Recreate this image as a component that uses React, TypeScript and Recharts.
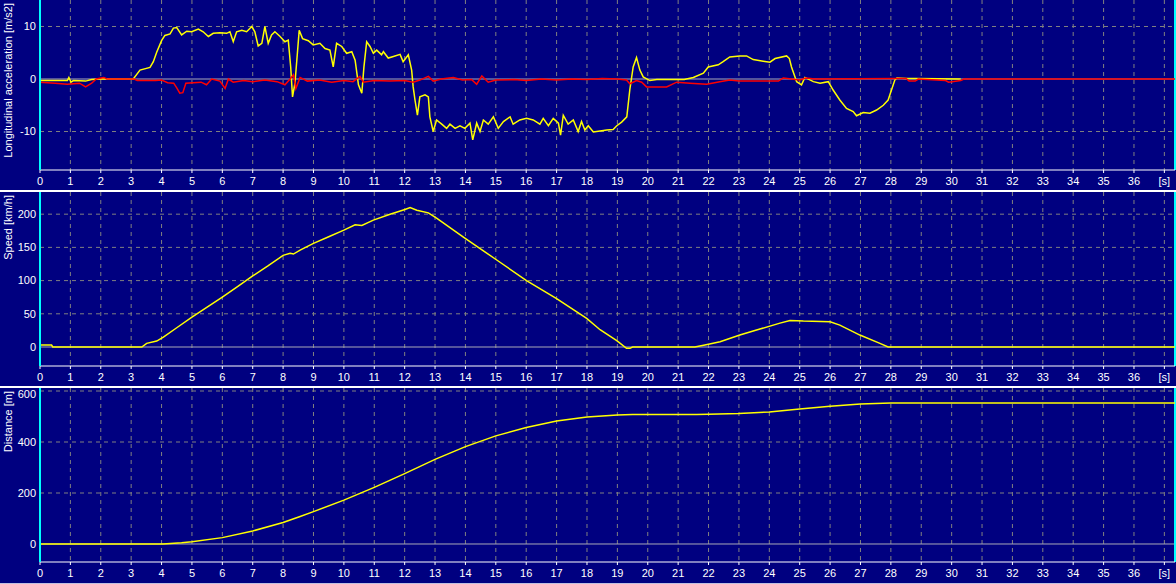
import React from "react";
import {
  CartesianGrid,
  Line,
  LineChart,
  ReferenceLine,
  XAxis,
  YAxis,
} from "recharts";

// time axis
const X_MAX = 37.35;
const X_TICKS = Array.from({ length: 38 }, (_, i) => i);

// longitudinal acceleration (yellow)
const ACC_T = [
  0, 0.9, 0.95, 1.02, 1.1, 1.5, 1.7, 2.0, 3.07, 3.29, 3.62, 3.73, 3.84, 4.0, 4.11, 4.28, 4.39, 4.5,
  4.66, 4.83, 4.99, 5.21, 5.37, 5.54, 5.7, 5.92, 6.14, 6.25, 6.36, 6.47, 6.64, 6.8, 6.97, 7.07,
  7.18, 7.3, 7.4, 7.51, 7.62, 7.73, 7.9, 8.06, 8.17, 8.25, 8.31, 8.39, 8.47, 8.53, 8.64, 8.83,
  8.99, 9.21, 9.38, 9.54, 9.65, 9.76, 9.93, 10.09, 10.26, 10.37, 10.48, 10.59, 10.66, 10.75,
  10.86, 10.97, 11.08, 11.24, 11.3, 11.46, 11.63, 11.85, 11.95, 12.12, 12.23, 12.28, 12.34,
  12.42, 12.5, 12.67, 12.78, 12.83, 12.94, 13.05, 13.22, 13.38, 13.49, 13.66, 13.82, 13.98,
  14.15, 14.24, 14.37, 14.48, 14.59, 14.75, 14.92, 15.08, 15.25, 15.47, 15.57, 15.79, 16.01,
  16.23, 16.45, 16.56, 16.73, 16.89, 17.06, 17.13, 17.22, 17.38, 17.55, 17.71, 17.82, 17.93,
  18.04, 18.21, 18.43, 18.65, 18.86, 18.98, 19.14, 19.31, 19.41, 19.52, 19.63, 19.74, 19.85,
  20.07, 20.3, 21.2, 21.5, 21.83, 21.99, 22.32, 22.48, 22.7, 23.03, 23.25, 23.47, 23.8, 24.02,
  24.19, 24.57, 24.66, 24.73, 24.9, 25.06, 25.17, 25.45, 25.67, 25.94, 26.1, 26.32, 26.54,
  26.76, 26.87, 27.09, 27.31, 27.53, 27.75, 27.91, 28.02, 28.13, 28.2, 28.5, 28.8, 30.3,
];
const ACC_V = [
  -0.3, -0.3, 0.3, -0.6, -0.3, -0.4, -0.1, 0, 0, 1.7, 2.2, 3.3, 5.1, 7.3, 8.3, 8.6, 9.7, 9.8,
  8.4, 9.1, 9.0, 9.5, 9.0, 8.1, 8.7, 8.8, 8.7, 9.0, 7.1, 9.0, 9.3, 9.0, 10.0, 9.0,
  6.3, 6.8, 10.0, 6.8, 8.4, 9.0, 8.1, 7.1, 7.4, 2.3, -3.4, -0.8, 4.9, 9.3, 7.7, 7.3,
  6.5, 6.8, 5.8, 5.5, 2.3, 6.8, 6.2, 4.9, 5.2, 3.6, -1.1, -2.7, 2.3, 7.1,
  6.2, 4.9, 5.5, 4.6, 5.2, 4.0, 4.3, 4.7, 3.3, 4.6, 1.7, -1.5, -4.0,
  -6.9, -3.4, -3.0, -3.4, -7.2, -10.0, -7.8, -8.6, -9.4, -8.6, -9.4, -8.9, -9.4,
  -8.4, -11.6, -8.4, -10.0, -7.8, -8.6, -7.2, -9.4, -8.1, -7.2, -8.6, -7.8, -7.5,
  -7.8, -8.6, -7.5, -8.9, -7.5, -8.4, -10.7, -6.9, -8.6, -7.8, -10.0, -8.1, -9.7,
  -8.9, -10.1, -9.9, -9.7, -9.6, -8.9, -8.2, -7.2, -2.0, 2.3, 4.1, 1.7, 0.4,
  -0.3, -0.1, -0.1, 0.3, 1.1, 2.3, 2.7, 3.3, 4.2, 4.4, 4.4, 3.7, 3.4, 3.2,
  3.9, 4.4, 3.9, 2.3, -0.5, -1.1, 0.3, -0.5, -0.8, -0.5, -2.1, -4.0, -5.6,
  -6.2, -7.0, -6.4, -6.5, -5.9, -5.0, -4.0, -2.1, -0.2, 0.2, 0.1, 0.1, 0,
];

// second trace (red)
const LAT_T = [
  0, 0.5, 0.9, 1.3, 1.5, 1.7, 1.85, 2.1, 2.2, 3.1, 3.2, 3.8, 4.0, 4.2, 4.4, 4.5, 4.6, 4.7, 4.8,
  5.3, 5.48, 5.65, 5.92, 6.09, 6.2, 6.36, 6.7, 7.0, 7.4, 7.8, 8.06, 8.23, 8.34, 8.42, 8.56, 8.8,
  9.2, 9.6, 10.0, 10.3, 10.53, 10.64, 11.0, 11.5, 12.0, 12.28, 12.5, 12.78, 12.94, 13.2, 13.6,
  13.9, 14.2, 14.37, 14.54, 14.75, 15.0, 15.6, 16.0, 16.5, 17.0, 17.5, 18.0, 18.5, 19.0, 19.3,
  19.41, 19.63, 19.8, 19.96, 20.62, 20.95, 21.39, 21.94, 22.37, 22.7, 23.0, 24.3, 24.46, 25.0,
  25.2, 25.5, 28.2, 28.5, 28.6, 28.8, 28.9, 29.8, 29.9, 30.3, 30.4, 37.35,
];
const LAT_V = [
  -0.6, -0.8, -1.0, -0.8, -1.5, -0.8, 0, 0.3, 0, 0, -0.3, -0.3, -0.2, -0.7, -0.8, -1.7, -2.7, -2.6, -0.8,
  -0.6, -1.1, 0, -0.4, -1.8, 0, -0.6, -0.3, -0.5, -0.2, -0.5, -1.1, 0, 0.8, -1.8, 0.3, -0.4,
  -0.2, -0.6, -0.3, -0.5, 0.5, -0.6, -0.3, -0.4, -0.3, -0.6, -0.2, 0.5, -0.4, 0, 0.3,
  -0.2, -0.1, -1.0, 0.6, -0.6, -0.2, -0.1, -0.3, 0, -0.2, 0, -0.1, 0.1, 0, -0.2,
  -0.9, -0.3, -0.6, -1.5, -1.5, -0.6, -0.8, -1.0, -0.5, -0.2, -0.4, -0.4, 0.2, -0.2,
  0.2, 0, 0.1, 0.1, -0.4, -0.4, 0, -0.3, -0.6, -0.3, 0, 0,
];

// speed [km/h]
const SPD_T = [
  0, 0.38, 0.42, 3.35, 3.51, 3.84, 4.06, 4.5, 5.0, 5.5, 6.0, 6.5, 7.0, 7.5, 8.0, 8.23, 8.34,
  8.56, 9.0, 9.5, 10.0, 10.37, 10.59, 10.97, 11.52, 12.01, 12.18, 12.4, 12.78, 13.05, 13.98,
  15.03, 16.01, 17.0, 17.99, 18.43, 18.98, 19.3, 19.41, 19.5, 21.55, 21.88, 22.38, 23.03,
  23.69, 24.35, 24.68, 25.12, 26.0, 26.32, 26.98, 27.64, 27.91, 37.35,
];
const SPD_V = [
  3, 3, 0, 0, 5.5, 9, 15, 29, 45, 60, 75, 91, 107, 122, 138, 141, 140,
  146, 156, 166, 176, 184, 183, 191, 200, 207, 210, 206, 202, 194, 164,
  131, 100, 73, 43, 26, 9.5, -2, -2, 0, 0, 3, 8, 18,
  27, 36, 40, 39, 38, 33, 18, 5.5, 0, 0,
];

// distance [m]
const DST_T = [
  0, 4.05, 4.66, 5, 6, 7, 8, 8.56, 9, 10, 11, 12, 13, 14, 15, 16, 17, 18, 19, 19.5, 21.6, 22,
  23, 24, 25, 26, 27, 28, 37.35,
];
const DST_V = [
  0, 0, 5, 9, 25, 51, 84, 108, 127, 172, 222, 276, 332, 382, 424, 457, 482, 498, 506, 508, 508, 509,
  512, 518, 529, 540, 549, 553, 553,
];

const FONT = '"Liberation Sans", Arial, sans-serif';
const NAVY = "#000080";
const GRID = "#808080";
const ZERO = "#a8a8b8";
const CYAN = "#00ffff";
const YELLOW = "#ffff00";
const RED = "#ff0000";

const toRows = (ts: number[], vs: number[]) => ts.map((t, i) => ({ t, v: vs[i] }));

type Series = { data: { t: number; v: number }[]; color: string };

// y tick that never runs above the top edge of its panel
function YTick(props: any) {
  const { x, y, payload } = props;
  const cy = Math.max(y, 6);
  return (
    <text
      x={x}
      y={cy}
      dy="0.355em"
      textAnchor="end"
      fill="#ffffff"
      fontSize={11}
      fontFamily={FONT}
    >
      {payload.value}
    </text>
  );
}

function Panel({
  top,
  height,
  yDomain,
  yTicks,
  yLabel,
  series,
}: {
  top: number;
  height: number;
  yDomain: [number, number];
  yTicks: number[];
  yLabel: string;
  series: Series[];
}) {
  const renderLabel = (props: any) => {
    const vb = props && props.viewBox ? props.viewBox : { y: 0 };
    const x = 12;
    const y = vb.y + 3;
    return (
      <text
        x={x}
        y={y}
        transform={`rotate(-90 ${x} ${y})`}
        textAnchor="end"
        fill="#ffffff"
        fontSize={11}
        fontFamily={FONT}
      >
        {yLabel}
      </text>
    );
  };

  return (
    <div style={{ position: "absolute", left: 0, top, width: 1176, height }}>
      <LineChart
        width={1176}
        height={height}
        margin={{ top: 0, right: 1, left: 0, bottom: 0 }}
      >
        <CartesianGrid
          stroke={GRID}
          strokeDasharray="4 4"
          horizontalValues={yTicks.filter((v) => v !== 0)}
        />
        <XAxis
          dataKey="t"
          type="number"
          domain={[0, X_MAX]}
          ticks={X_TICKS}
          interval={0}
          allowDataOverflow
          height={21}
          stroke="#ffffff"
          tickSize={3}
          tickMargin={4}
          tick={{ fill: "#ffffff", fontSize: 11, fontFamily: FONT }}
          tickFormatter={(v) => (v === 37 ? "[s]" : String(v))}
        />
        <YAxis
          type="number"
          domain={yDomain}
          ticks={yTicks}
          interval={0}
          allowDataOverflow
          width={40}
          tickLine={false}
          tickSize={2}
          tickMargin={2}
          axisLine={{ stroke: CYAN, strokeWidth: 2 }}
          tick={<YTick />}
          label={renderLabel}
        />
        <ReferenceLine y={0} stroke={ZERO} strokeWidth={1} />
        <ReferenceLine x={X_MAX} stroke={CYAN} strokeWidth={2} />
        {series.map((s, i) => (
          <Line
            key={i}
            data={s.data}
            dataKey="v"
            type="linear"
            stroke={s.color}
            strokeWidth={1.5}
            dot={false}
            activeDot={false}
            isAnimationActive={false}
          />
        ))}
      </LineChart>
    </div>
  );
}

export default function App() {
  const acc = toRows(ACC_T, ACC_V);
  const lat = toRows(LAT_T, LAT_V);
  const spd = toRows(SPD_T, SPD_V);
  const dst = toRows(DST_T, DST_V);

  return (
    <div
      style={{
        position: "absolute",
        left: 0,
        top: 0,
        width: 1176,
        height: 584,
        background: NAVY,
        overflow: "hidden",
        fontFamily: FONT,
      }}
    >
      <Panel
        top={0}
        height={191}
        yDomain={[-17.33, 15.05]}
        yTicks={[-10, 0, 10]}
        yLabel="Longitudinal acceleration [m/s2]"
        series={[
          { data: acc, color: YELLOW },
          { data: lat, color: RED },
        ]}
      />
      <div style={{ position: "absolute", left: 0, top: 190, width: 1176, height: 2, background: "#ffffff" }} />
      <Panel
        top={192}
        height={195}
        yDomain={[-28.6, 233.4]}
        yTicks={[0, 50, 100, 150, 200]}
        yLabel="Speed [km/h]"
        series={[{ data: spd, color: YELLOW }]}
      />
      <div style={{ position: "absolute", left: 0, top: 386, width: 1176, height: 2, background: "#ffffff" }} />
      <Panel
        top={388}
        height={195}
        yDomain={[-70.6, 611.8]}
        yTicks={[0, 200, 400, 600]}
        yLabel="Distance [m]"
        series={[{ data: dst, color: YELLOW }]}
      />
      <div style={{ position: "absolute", left: 0, top: 583, width: 1176, height: 1, background: "#c0c0e0" }} />
    </div>
  );
}
